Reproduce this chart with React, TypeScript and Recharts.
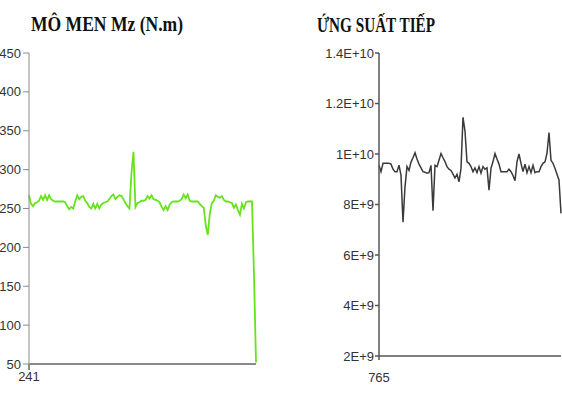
import { LineChart, Line, XAxis, YAxis } from "recharts";

// Mô men Mz (N.m)
const momentStart = 241;
const momentValues = [
  267, 256, 253, 257, 258, 260, 266, 261, 267, 261, 267, 262, 260, 259, 259, 259,
  259, 259, 258, 253, 249, 252, 250, 259, 267, 262, 265, 266, 260, 257, 252, 250,
  256, 250, 256, 250, 255, 257, 258, 259, 262, 266, 268, 262, 265, 267, 266, 262,
  257, 253, 250, 295, 323,
  252, 257, 258, 260, 260, 261, 266, 263, 267, 262, 261, 260, 258, 252, 248, 253,
  248, 255, 258, 259, 259, 259, 260, 262, 268, 263, 268, 260, 259, 259, 259, 259,
  256, 253, 251, 228, 216, 243, 257, 260, 267, 265, 264, 266, 261, 259, 259, 258,
  257, 251, 255, 248, 242, 256, 250, 258, 259, 259, 259, 165, 52,
];
const momentTicks = [50, 100, 150, 200, 250, 300, 350, 400, 450];

// Ứng suất tiếp
const stressStart = 765;
const stressValues = [
  9.55e9, 9.3e9, 9.63e9, 9.63e9, 9.63e9, 9.63e9, 9.6e9, 9.4e9, 9.3e9, 9.3e9,
  9.56e9, 9.15e9, 7.3e9, 8.7e9, 9.5e9, 9.35e9, 9.68e9, 9.85e9, 10.05e9, 9.8e9,
  9.6e9, 9.45e9, 9.3e9, 9.28e9, 9.24e9, 9.26e9, 9.55e9, 7.75e9, 9.55e9, 9.5e9,
  9.75e9, 10.02e9, 9.85e9, 9.7e9, 9.5e9, 9.4e9, 9.35e9, 9.2e9, 9.05e9, 9.2e9,
  8.9e9, 9.43e9, 11.45e9, 10.9e9, 9.69e9, 9.63e9, 9.5e9, 9.3e9, 9.45e9, 9.26e9,
  9.5e9, 9.24e9, 9.5e9, 9.4e9, 9.45e9, 8.57e9, 9.43e9, 9.7e9, 10.02e9, 9.8e9,
  9.6e9, 9.3e9, 9.3e9, 9.3e9, 9.3e9, 9.4e9, 9.3e9, 9.15e9, 8.94e9, 9.7e9,
  10.0e9, 9.63e9, 9.3e9, 9.6e9, 9.26e9, 9.5e9, 9.26e9, 9.55e9, 9.26e9, 9.3e9,
  9.3e9, 9.5e9, 9.63e9, 9.69e9, 10.03e9, 10.85e9, 9.75e9, 9.63e9, 9.43e9, 9.2e9,
  8.97e9, 7.65e9,
];
const stressTicks = [2e9, 4e9, 6e9, 8e9, 1e10, 1.2e10, 1.4e10];
const stressTickLabels = ["2E+9", "4E+9", "6E+9", "8E+9", "1E+10", "1.2E+10", "1.4E+10"];

const momentData = momentValues.map((v, i) => ({ x: momentStart + i, v }));
const stressData = stressValues.map((v, i) => ({ x: stressStart + i, v }));

const tickFont = { fontFamily: "Liberation Sans, Arial, sans-serif", fontSize: 13 };

function Title({ text, x, baseline, width }: { text: string; x: number; baseline: number; width: number }) {
  return (
    <svg
      width={width + 10}
      height={40}
      style={{ position: "absolute", left: x, top: 0, overflow: "visible" }}
    >
      <text
        x={0}
        y={baseline}
        fontFamily="Liberation Serif, Times New Roman, serif"
        fontWeight="bold"
        fontSize={20}
        fill="#111"
        textLength={width}
        lengthAdjust="spacingAndGlyphs"
      >
        {text}
      </text>
    </svg>
  );
}

export default function App() {
  return (
    <div
      style={{
        position: "absolute",
        left: 0,
        top: 0,
        width: 562,
        height: 398,
        background: "#fff",
        overflow: "hidden",
      }}
    >
      <Title text="MÔ MEN Mz (N.m)" x={31} baseline={31} width={152} />
      <Title text="ỨNG SUẤT TIẾP" x={317} baseline={32} width={118} />

      <div style={{ position: "absolute", left: 0, top: 0 }}>
        <LineChart
          width={258}
          height={398}
          data={momentData}
          margin={{ top: 53, right: 2, bottom: 4, left: 0 }}
        >
          <XAxis
            dataKey="x"
            type="number"
            domain={[momentStart, momentStart + momentValues.length - 1]}
            ticks={[momentStart]}
            height={30}
            tickSize={6}
            tickMargin={2}
            stroke="#8a8a8a"
            strokeWidth={2}
            tick={{ ...tickFont, fill: "#333" }}
          />
          <YAxis
            type="number"
            domain={[50, 450]}
            ticks={momentTicks}
            width={29}
            tickSize={6}
            tickMargin={2}
            stroke="#8a8a8a"
            tick={{ ...tickFont, fill: "#333" }}
          />
          <Line
            dataKey="v"
            type="linear"
            stroke="#66e31c"
            strokeWidth={1.8}
            dot={false}
            isAnimationActive={false}
          />
        </LineChart>
      </div>

      <div style={{ position: "absolute", left: 290, top: 0 }}>
        <LineChart
          width={272}
          height={398}
          data={stressData}
          margin={{ top: 53, right: 1, bottom: 12, left: 0 }}
        >
          <XAxis
            dataKey="x"
            type="number"
            domain={[stressStart, stressStart + stressValues.length - 1]}
            ticks={[stressStart]}
            height={30}
            tickSize={4}
            tickMargin={13}
            stroke="#555"
            strokeWidth={1.5}
            tick={{ ...tickFont, fill: "#333" }}
          />
          <YAxis
            type="number"
            domain={[2e9, 1.4e10]}
            ticks={stressTicks}
            width={89}
            tickSize={4}
            tickMargin={1}
            stroke="#555"
            strokeWidth={1.5}
            tick={{ ...tickFont, fill: "#333" }}
            tickFormatter={(v: number) => stressTickLabels[stressTicks.indexOf(v)] ?? String(v)}
          />
          <Line
            dataKey="v"
            type="linear"
            stroke="#3a3a3a"
            strokeWidth={1.5}
            dot={false}
            isAnimationActive={false}
          />
        </LineChart>
      </div>
    </div>
  );
}
